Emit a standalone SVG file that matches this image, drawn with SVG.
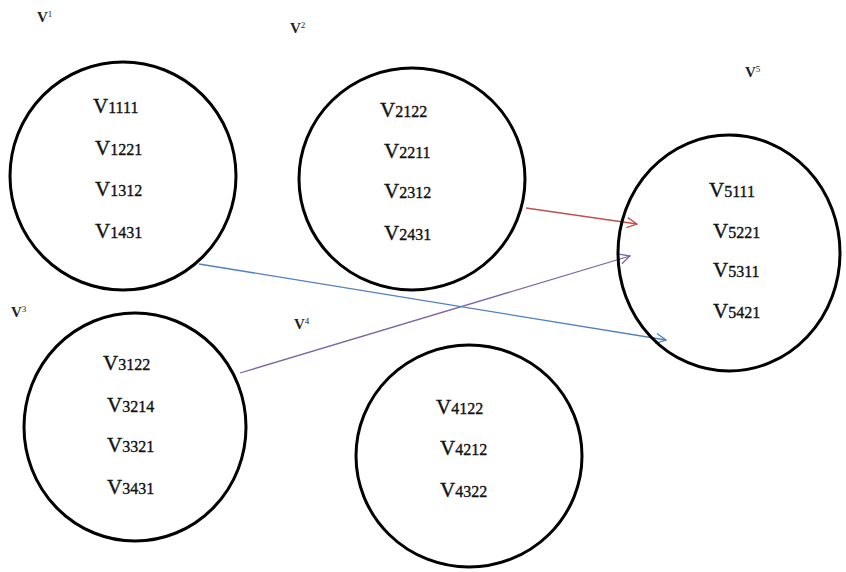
<svg xmlns="http://www.w3.org/2000/svg" width="846" height="572" viewBox="0 0 846 572">
<style>
.e{fill:none;stroke:#000;stroke-width:3}
.t{font-family:"Liberation Serif",serif;fill:#111;stroke:#111;stroke-width:0.35}
.v{font-size:21px}
.d{font-size:16px}
.l{font-family:"Liberation Serif",serif;font-size:15px;font-weight:bold;fill:#222}
.s{font-size:9px;font-weight:normal}
.c{fill:none;stroke-width:1.3}
</style>
<defs>
<marker id="mr" markerWidth="12" markerHeight="12" refX="11" refY="6" orient="auto" markerUnits="userSpaceOnUse"><path d="M1,1 L11,6 L1,11" fill="none" stroke="#c0504d" stroke-width="1.3"/></marker>
<marker id="mp" markerWidth="12" markerHeight="12" refX="11" refY="6" orient="auto" markerUnits="userSpaceOnUse"><path d="M1,1 L11,6 L1,11" fill="none" stroke="#8064a2" stroke-width="1.3"/></marker>
<marker id="mb" markerWidth="12" markerHeight="12" refX="11" refY="6" orient="auto" markerUnits="userSpaceOnUse"><path d="M1,1 L11,6 L1,11" fill="none" stroke="#4f81bd" stroke-width="1.3"/></marker>
</defs>
<rect width="846" height="572" fill="#fff"/>
<g id="connectors">
<line class="c" x1="526" y1="208" x2="637" y2="224" stroke="#c0504d" marker-end="url(#mr)"/>
<line class="c" x1="240" y1="373" x2="630" y2="256" stroke="#8064a2" marker-end="url(#mp)"/>
<line class="c" x1="199" y1="264" x2="666" y2="340" stroke="#4f81bd" marker-end="url(#mb)"/>
</g>
<g id="v1">
<text class="l" x="37" y="22">V<tspan class="s" dy="-5">1</tspan></text>
<ellipse class="e" cx="123" cy="176" rx="113" ry="114"/>
<text class="t" x="93" y="113"><tspan class="v">V</tspan><tspan class="d">1111</tspan></text>
<text class="t" x="95" y="155"><tspan class="v">V</tspan><tspan class="d">1221</tspan></text>
<text class="t" x="95" y="196"><tspan class="v">V</tspan><tspan class="d">1312</tspan></text>
<text class="t" x="95" y="238"><tspan class="v">V</tspan><tspan class="d">1431</tspan></text>
</g>
<g id="v2">
<text class="l" x="290" y="33">V<tspan class="s" dy="-5">2</tspan></text>
<ellipse class="e" cx="412" cy="179" rx="113" ry="111"/>
<text class="t" x="380" y="117"><tspan class="v">V</tspan><tspan class="d">2122</tspan></text>
<text class="t" x="384" y="158"><tspan class="v">V</tspan><tspan class="d">2211</tspan></text>
<text class="t" x="384" y="198"><tspan class="v">V</tspan><tspan class="d">2312</tspan></text>
<text class="t" x="384" y="240"><tspan class="v">V</tspan><tspan class="d">2431</tspan></text>
</g>
<g id="v5">
<text class="l" x="745" y="77">V<tspan class="s" dy="-5">5</tspan></text>
<ellipse class="e" cx="729" cy="253" rx="111" ry="118"/>
<text class="t" x="709" y="197"><tspan class="v">V</tspan><tspan class="d">5111</tspan></text>
<text class="t" x="713" y="238"><tspan class="v">V</tspan><tspan class="d">5221</tspan></text>
<text class="t" x="713" y="277"><tspan class="v">V</tspan><tspan class="d">5311</tspan></text>
<text class="t" x="713" y="318"><tspan class="v">V</tspan><tspan class="d">5421</tspan></text>
</g>
<g id="v3">
<text class="l" x="11" y="317">V<tspan class="s" dy="-5">3</tspan></text>
<ellipse class="e" cx="135" cy="427" rx="111" ry="114"/>
<text class="t" x="103" y="370"><tspan class="v">V</tspan><tspan class="d">3122</tspan></text>
<text class="t" x="107" y="412"><tspan class="v">V</tspan><tspan class="d">3214</tspan></text>
<text class="t" x="107" y="452"><tspan class="v">V</tspan><tspan class="d">3321</tspan></text>
<text class="t" x="107" y="494"><tspan class="v">V</tspan><tspan class="d">3431</tspan></text>
</g>
<g id="v4">
<text class="l" x="294" y="329">V<tspan class="s" dy="-5">4</tspan></text>
<ellipse class="e" cx="469" cy="456" rx="113" ry="111"/>
<text class="t" x="436" y="414"><tspan class="v">V</tspan><tspan class="d">4122</tspan></text>
<text class="t" x="440" y="455"><tspan class="v">V</tspan><tspan class="d">4212</tspan></text>
<text class="t" x="440" y="497"><tspan class="v">V</tspan><tspan class="d">4322</tspan></text>
</g>
</svg>
